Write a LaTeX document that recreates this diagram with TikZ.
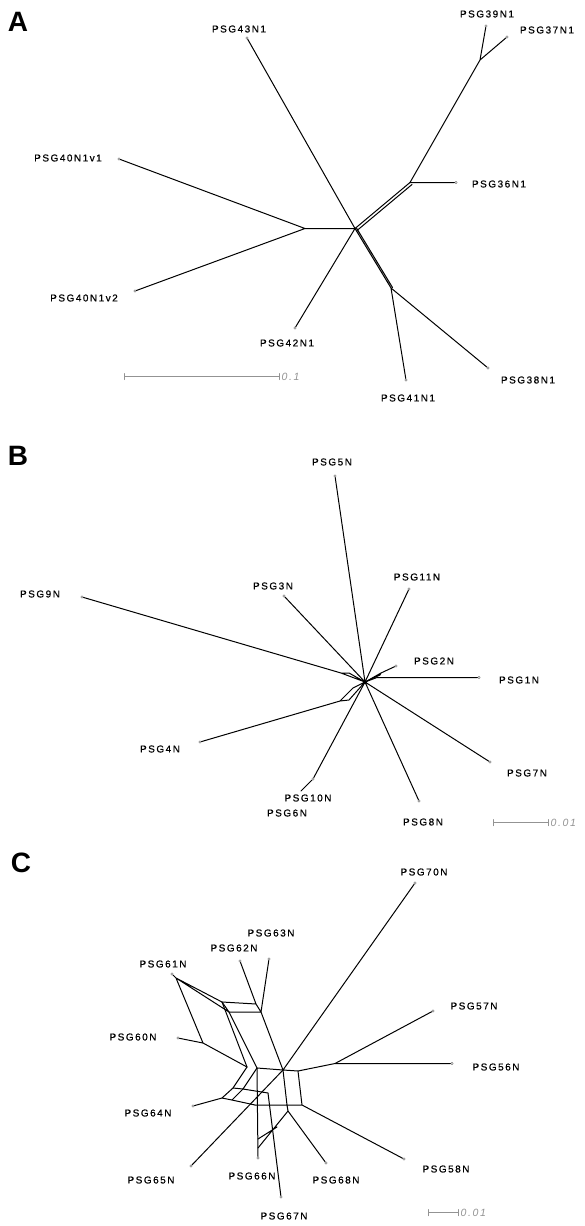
\documentclass[tikz,border=0pt]{standalone}
\usepackage{fontspec}
\setmainfont{Liberation Sans}
\newfontfamily\labfont[LetterSpace=15,FakeBold=0.6]{Liberation Sans}
\newfontfamily\barfont[LetterSpace=15]{Liberation Sans}
\newfontfamily\panfont{Liberation Sans}
\begin{document}
\begin{tikzpicture}[x=1pt,y=-1pt,line join=round,line cap=round,
    lab/.style={font={\labfont\fontsize{10}{12}\selectfont},inner sep=0pt},
    pan/.style={font={\panfont\bfseries\fontsize{28}{30}\selectfont},inner sep=0pt},
    tipdot/.style={circle,draw=gray,line width=0.5pt,inner sep=0pt,minimum size=2.6pt},
    br/.style={line width=1pt},
    bar/.style={draw=gray!85,line width=1pt},
    barlab/.style={font={\barfont\itshape\fontsize{10.5}{12}\selectfont},text=gray!85,inner sep=0pt,anchor=west}]
\useasboundingbox (0,0) rectangle (585,1226);
% ===== A =====
\node[pan] (pA) at (18,22) {A};
\coordinate (Ac) at (355,228.5); \coordinate (Al) at (305,228.5);
\coordinate (Aur) at (410,182.5); \coordinate (Aup) at (480,60);
\coordinate (Alr) at (391,288);
\node[tipdot] (t43) at (247,38) {};   \node[tipdot] (t39) at (486,26) {};
\node[tipdot] (t37) at (507,37) {};   \node[tipdot] (t40a) at (119,159) {};
\node[tipdot] (t36) at (456,182.5) {};  \node[tipdot] (t40b) at (135,291) {};
\node[tipdot] (t42) at (295,328) {};  \node[tipdot] (t41) at (406,380) {};
\node[tipdot] (t38) at (488,368) {};
\draw[br] (t43)--(Ac) (t40a)--(Al)--(t40b) (Al)--(Ac) (t42)--(Ac);
\draw[br] (Ac)--(Aur) ([shift={(2,2)}]Ac)--([shift={(2,2)}]Aur);
\draw[br] (t36)--(Aur)--(Aup)--(t39) (Aup)--(t37);
\draw[br] (Ac)--(Alr) ([shift={(1.5,-0.5)}]Ac)--([shift={(1.5,-0.5)}]Alr);
\draw[br] (t41)--(Alr)--(t38);
\node[lab] (l43) at (239,29) {PSG43N1};   \node[lab] (l39) at (487,14) {PSG39N1};
\node[lab] (l37) at (547,30) {PSG37N1};   \node[lab] (l40a) at (68,158) {PSG40N1v1};
\node[lab] (l36) at (499,184) {PSG36N1};  \node[lab] (l40b) at (84,298) {PSG40N1v2};
\node[lab] (l42) at (287,343) {PSG42N1};  \node[lab] (l41) at (408,398) {PSG41N1};
\node[lab] (l38) at (528,380) {PSG38N1};
\coordinate (sA1) at (124.5,376.5); \coordinate (sA2) at (279.5,376.5);
\draw[bar] (sA1)--(sA2) ([yshift=3pt]sA1)--([yshift=-3pt]sA1) ([yshift=3pt]sA2)--([yshift=-3pt]sA2);
\node[barlab] (bA) at ([xshift=2pt]sA2) {0.1};
% ===== B =====
\node[pan] (pB) at (18,456) {B};
\coordinate (Bc) at (365,682);
\coordinate (B9) at (341,673); \coordinate (B9b) at (349,673);
\coordinate (B2) at (381,673); \coordinate (B1) at (377,677.5);
\coordinate (B4) at (340,701); \coordinate (B4b) at (349,700);
\coordinate (B6) at (301,791);
\node[tipdot] (t5) at (335,476) {};  \node[tipdot] (t11) at (409,589) {};
\node[tipdot] (t3) at (284,596) {};  \node[tipdot] (t9) at (82,597) {};
\node[tipdot] (t2) at (396,666) {};  \node[tipdot] (t1) at (479,677.5) {};
\node[tipdot] (t4) at (200,742) {};  \node[tipdot] (t7) at (490,762) {};
\node[tipdot] (t10) at (313,779) {}; \node[tipdot] (t8) at (419,801) {};
\draw[br] (t5)--(Bc) (t11)--(Bc) (t3)--(Bc) (t7)--(Bc) (t8)--(Bc) (t10)--(Bc);
\draw[br] (t9)--(B9)--(Bc) (B9)--(B9b)--(Bc);
\draw[br] (t2)--(B2)--(Bc) (B2)--([shift={(-1,2)}]B2)--(Bc);
\draw[br] (t1)--(B1)--(Bc);
\draw[br] (t4)--(B4)--(B4b)--(Bc) (B4)--([shift={(13,-13)}]B4)--(Bc);
\draw[br] (t10)--(B6);
\fill (Bc) circle (2pt);
\node[lab] (l5) at (332,462) {PSG5N};    \node[lab] (l11) at (417,577) {PSG11N};
\node[lab] (l3) at (273,586) {PSG3N};    \node[lab] (l9) at (40,594) {PSG9N};
\node[lab] (l2) at (434,661) {PSG2N};    \node[lab] (l1) at (519,680) {PSG1N};
\node[lab] (l4) at (160,749) {PSG4N};    \node[lab] (l7) at (527,773) {PSG7N};
\node[lab] (l10) at (308,798) {PSG10N};  \node[lab] (l6) at (287,813) {PSG6N};
\node[lab] (l8) at (423,822) {PSG8N};
\coordinate (sB1) at (493.5,822.5); \coordinate (sB2) at (548.5,822.5);
\draw[bar] (sB1)--(sB2) ([yshift=3pt]sB1)--([yshift=-3pt]sB1) ([yshift=3pt]sB2)--([yshift=-3pt]sB2);
\node[barlab] (bB) at ([xshift=2pt]sB2) {0.01};
% ===== C =====
\node[pan] (pC) at (21,863) {C};
\coordinate (a1) at (176,978);
\coordinate (p1) at (222,1002); \coordinate (p2) at (229,1012);
\coordinate (p3) at (256,1004); \coordinate (p4) at (261,1012);
\coordinate (r) at (203,1043);
\coordinate (b1) at (247,1067); \coordinate (b2) at (257,1068);
\coordinate (c0) at (283,1070); \coordinate (d1) at (298,1071);
\coordinate (f) at (335,1063.5);
\coordinate (h1) at (233,1088); \coordinate (h2) at (222,1098);
\coordinate (k1) at (243,1089); \coordinate (k2) at (232,1100);
\coordinate (m) at (268,1093);  \coordinate (n) at (255,1105);
\coordinate (c1) at (287,1105); \coordinate (d2) at (302,1105);
\coordinate (c2) at (288,1111);
\coordinate (s1) at (258,1148); \coordinate (s2) at (277,1127); \coordinate (s3) at (258,1139);
\node[tipdot] (t70) at (415,883) {};  \node[tipdot] (t63) at (269,959) {};
\node[tipdot] (t62) at (240,961) {};  \node[tipdot] (t61) at (172,974) {};
\node[tipdot] (t57) at (433,1011) {}; \node[tipdot] (t60) at (178,1038) {};
\node[tipdot] (t56) at (452,1063.5) {}; \node[tipdot] (t64) at (193,1106) {};
\node[tipdot] (t58) at (404,1159) {}; \node[tipdot] (t65) at (191,1166) {};
\node[tipdot] (t66) at (258,1158) {}; \node[tipdot] (t68) at (326,1163) {};
\node[tipdot] (t67) at (281,1197) {};
\draw[br] (t61)--(a1) (a1)--(p1) (a1)--(p2) (a1)--(r) (p1)--(p2);
\draw[br] (p1)--(p3)--(p4)--(p2) (t62)--(p3) (t63)--(p4);
\draw[br] (p1)--(b1) (p2)--(b2) (p4)--(c0);
\draw[br] (t60)--(r)--(b1);
\draw[br] (b2)--(c0)--(d1)--(f)--(t56) (f)--(t57) (c0)--(t70);
\draw[br] (d1)--(d2) (c0)--(c1) (n)--(c1)--(d2) (c1)--(c2)--(t68) (d2)--(t58);
\draw[br] (b1)--(h1)--(h2)--(t64) (b2)--(k1)--(k2);
\draw[br] (h1)--(k1)--(m) (h2)--(k2)--(n);
\draw[br] (b2)--(t66) (m)--(t67) (c0)--(t65);
\draw[br] (c2)--(s1) (s2)--(s3);
\node[lab] (l70) at (424,872) {PSG70N};   \node[lab] (l63) at (271,933) {PSG63N};
\node[lab] (l62) at (234,948) {PSG62N};   \node[lab] (l61) at (163,964) {PSG61N};
\node[lab] (l57) at (474,1006) {PSG57N};  \node[lab] (l60) at (133,1037) {PSG60N};
\node[lab] (l56) at (496,1067) {PSG56N};  \node[lab] (l64) at (148,1113) {PSG64N};
\node[lab] (l58) at (446,1169) {PSG58N};  \node[lab] (l65) at (151,1180) {PSG65N};
\node[lab] (l66) at (252,1176) {PSG66N};  \node[lab] (l68) at (336,1180) {PSG68N};
\node[lab] (l67) at (284,1216) {PSG67N};
\coordinate (sC1) at (428.5,1212.5); \coordinate (sC2) at (458.5,1212.5);
\draw[bar] (sC1)--(sC2) ([yshift=3pt]sC1)--([yshift=-3pt]sC1) ([yshift=3pt]sC2)--([yshift=-3pt]sC2);
\node[barlab] (bC) at ([xshift=2pt]sC2) {0.01};
\end{tikzpicture}
\end{document}
